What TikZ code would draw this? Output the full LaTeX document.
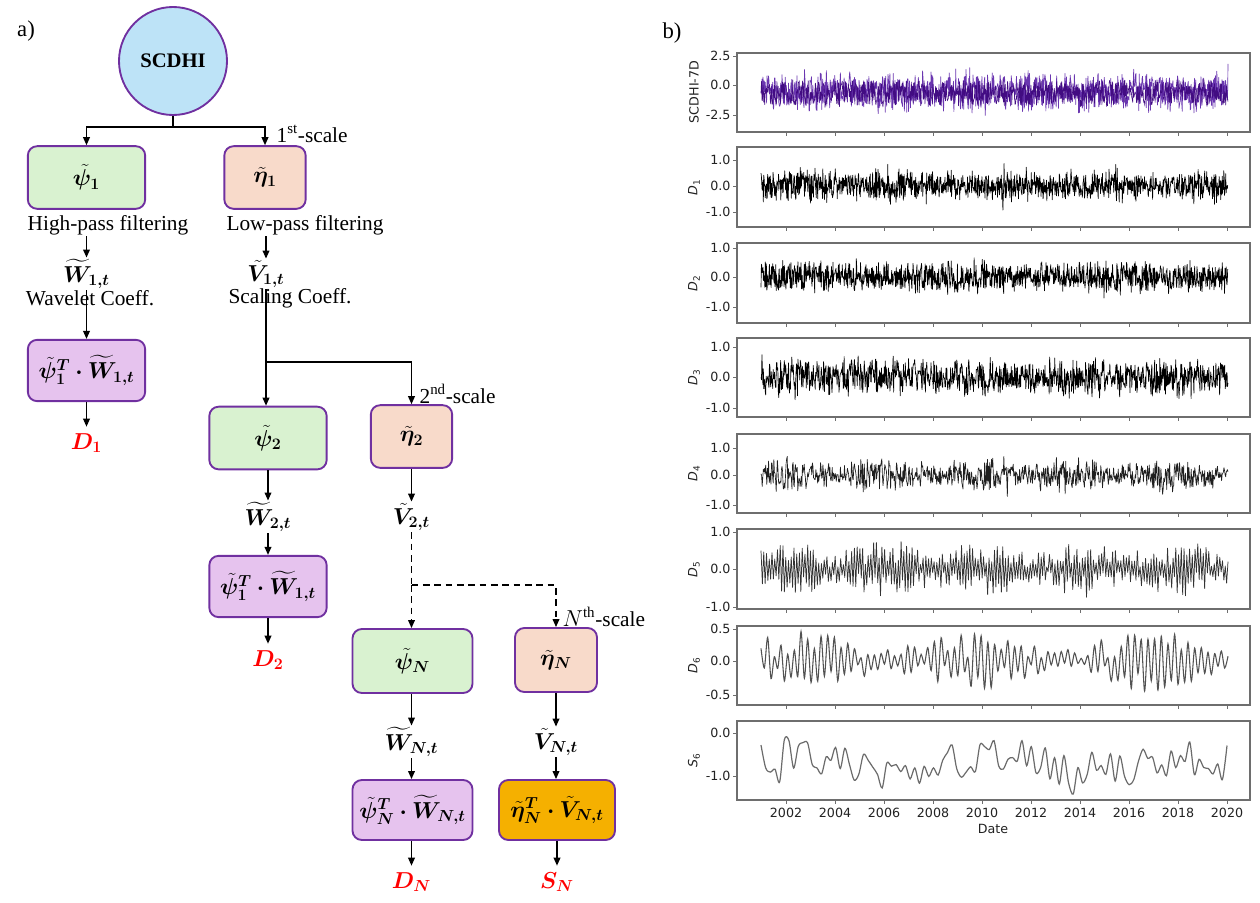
\documentclass[tikz,border=0pt]{standalone}
\usepackage{amsmath}
\usepackage{fontspec}
\setmainfont{Liberation Serif}
\newfontfamily\plotfont{DejaVu Sans}
\usepackage{bm}
\usetikzlibrary{arrows.meta}
\definecolor{pborder}{HTML}{7030A0}
\definecolor{cblue}{HTML}{BDE3F7}
\definecolor{cgreen}{HTML}{D9F2D0}
\definecolor{cpeach}{HTML}{F8DACA}
\definecolor{clav}{HTML}{E6C3EE}
\definecolor{corange}{HTML}{F5B000}
\definecolor{sigpurple}{HTML}{6A36B0}
\definecolor{sigdark}{HTML}{420C82}
\definecolor{axgray}{HTML}{6E6E6E}
\definecolor{ticktxt}{HTML}{222222}
\newcommand{\dlab}[2]{\textit{#1}\textsubscript{#2}}
\newcommand{\axpanel}[2]{%
  \draw[axframe] (737,#1) rectangle (1250,#2);
  \foreach \k in {0,...,9} {\draw[tk] ({786+49*\k},#2) -- ++(0,4);}%
}
\tikzset{
  fbox/.style={draw=pborder, line width=1.4pt, rounded corners=7pt, inner sep=0pt, font=\fontsize{18}{21}\selectfont},
  gbox/.style={fbox, fill=cgreen, minimum width=88pt, minimum height=47pt},
  pbox/.style={fbox, fill=cpeach, minimum width=61pt, minimum height=47pt},
  lbox/.style={fbox, fill=clav, minimum width=88pt, minimum height=46pt},
  obox/.style={fbox, fill=corange, minimum width=87pt, minimum height=45pt},
  coef/.style={inner sep=1pt, font=\fontsize{16.5}{18}\selectfont},
  captxt/.style={inner sep=1pt, font=\fontsize{16}{18}\selectfont},
  outtxt/.style={text=red, inner sep=1pt, outer sep=4pt, font=\fontsize{17}{20}\selectfont},
  conn/.style={line width=1.1pt, -{Triangle[length=6pt,width=5pt]}},
  dconn/.style={conn, dash pattern=on 5pt off 3.5pt},
  dline/.style={line width=1.1pt, dash pattern=on 5pt off 3.5pt},
  pline/.style={line width=1.1pt},
  tk/.style={axgray, line width=0.7pt},
  axframe/.style={axgray, line width=0.9pt},
  ticklab/.style={font=\plotfont\fontsize{9.5}{11}\selectfont, text=ticktxt, inner sep=1.5pt},
  noisy/.style={line width=0.5pt, line join=round},
}
\begin{document}
\begin{tikzpicture}[x=0.75pt, y=-0.75pt]
\useasboundingbox (0,0) rectangle (1260,903);
\fill[white] (0,0) rectangle (1260,903);

% ---------------- part a ----------------
\node[font=\fontsize{17}{19}\selectfont] (la) at (26,31) {a)};
\node[circle, draw=pborder, line width=1.4pt, fill=cblue, minimum size=81pt, inner sep=0pt,
      font=\bfseries\fontsize{15.5}{17}\selectfont] (scdhi) at (173,61) {SCDHI};
\coordinate (j1) at (173,127);
\node[gbox] (psi1) at (86.5,177.5) {$\bm{\tilde{\psi}_1}$};
\node[pbox] (eta1) at (265,177.5) {$\bm{\tilde{\eta}_1}$};
\draw[pline] (scdhi.south) -- (j1);
\draw[conn] (j1) -| (psi1.north);
\draw[conn] (j1) -| (eta1.north);
\node[captxt, anchor=west] (s1) at (275,134) {1\textsuperscript{st}-scale};

\node[captxt] (hp) at (108,225) {High-pass filtering};
\node[captxt] (lp) at (305,225) {Low-pass filtering};
\node[coef] (W1) at (86.5,274) {$\bm{\widetilde{W}_{1,t}}$};
\node[captxt] (wc) at (90,298) {Wavelet Coeff.};
\node[coef] (V1) at (266,274) {$\bm{\tilde{V}_{1,t}}$};
\node[captxt] (sc) at (290,298) {Scaling Coeff.};
\draw[conn] (hp.south -| W1) -- (W1.north);
\draw[conn] (lp.south -| V1) -- (V1.north);

\node[lbox] (box1) at (86.5,370.5) {$\bm{\tilde{\psi}_1^T\cdot\widetilde{W}_{1,t}}$};
\draw[conn] (W1.south) -- (box1.north);
\node[outtxt] (D1) at (86.5,443) {$\bm{D_1}$};
\draw[conn] (box1.south) -- (D1.north);

\coordinate (j2) at (266,362);
\node[gbox] (psi2) at (268,438) {$\bm{\tilde{\psi}_2}$};
\node[pbox] (eta2) at (411.5,436.5) {$\bm{\tilde{\eta}_2}$};
\draw[pline] (V1.south) -- (j2);
\draw[conn] (j2) -- (j2 |- psi2.north);
\draw[conn] (j2) -| (eta2.north);
\node[captxt, anchor=west] (s2) at (418,394) {2\textsuperscript{nd}-scale};

\node[coef] (W2) at (268,517) {$\bm{\widetilde{W}_{2,t}}$};
\node[coef] (V2) at (411.5,517) {$\bm{\tilde{V}_{2,t}}$};
\draw[conn] (psi2.south) -- (W2.north);
\draw[conn] (eta2.south) -- (V2.north);
\node[lbox] (box2) at (268,586.5) {$\bm{\tilde{\psi}_1^T\cdot\widetilde{W}_{1,t}}$};
\draw[conn] (W2.south) -- (box2.north);
\node[outtxt] (D2) at (268,660) {$\bm{D_2}$};
\draw[conn] (box2.south) -- (D2.north);

\coordinate (j3) at (411.5,585);
\node[gbox, minimum width=90pt, minimum height=48pt] (psiN) at (412.5,661) {$\bm{\tilde{\psi}_N}$};
\node[pbox, minimum width=61.5pt, minimum height=48pt] (etaN) at (556,660) {$\bm{\tilde{\eta}_N}$};
\draw[dline] (V2.south) -- (j3);
\draw[dconn] (j3) -- (j3 |- psiN.north);
\draw[dconn] (j3) -| (etaN.north);
\node[captxt, anchor=west] (sN) at (561,617) {$N$\textsuperscript{th}-scale};

\node[coef] (WN) at (411.5,742) {$\bm{\widetilde{W}_{N,t}}$};
\node[coef] (VN) at (556,742) {$\bm{\tilde{V}_{N,t}}$};
\draw[conn] (psiN.south -| WN) -- (WN.north);
\draw[conn] (etaN.south) -- (VN.north);
\node[lbox, minimum width=90pt, minimum height=45pt] (boxN) at (412.5,810) {$\bm{\tilde{\psi}_N^T\cdot\widetilde{W}_{N,t}}$};
\node[obox] (boxS) at (557,810) {$\bm{\tilde{\eta}_N^T\cdot\tilde{V}_{N,t}}$};
\draw[conn] (WN.south) -- (WN.south |- boxN.north);
\draw[conn] (VN.south) -- (VN.south |- boxS.north);
\node[outtxt] (DN) at (411.5,882) {$\bm{D_N}$};
\node[outtxt] (SN) at (557,882) {$\bm{S_N}$};
\draw[conn] (boxN.south -| DN) -- (DN.north);
\draw[conn] (boxS.south) -- (SN.north);

% ---------------- part b ----------------
\node[font=\fontsize{17}{19}\selectfont] (lb) at (672,33) {b)};

\axpanel{53}{132}
\axpanel{147}{227}
\axpanel{243}{323}
\axpanel{338}{417}
\axpanel{434}{513}
\axpanel{529}{609}
\axpanel{626}{705}
\axpanel{721}{800}

\foreach \yy/\lab [count=\i] in {56/2.5,85/0.0,115/-2.5,
   160/1.0,186/0.0,212/-1.0,
   248/1.0,277/0.0,307/-1.0,
   347/1.0,377/0.0,408/-1.0,
   448/1.0,475/0.0,505/-1.0,
   532/1.0,569/0.0,607/-1.0,
   629/0.5,661/0.0,695/-0.5,
   733/0.0,776/-1.0}
  {\draw[tk] (737,\yy) -- (733,\yy) node[ticklab, anchor=east] (yt\i) {\lab};}

\foreach \yr [count=\k from 0] in {2002,2004,...,2020}
  {\node[ticklab] (yr\yr) at ({786+49*\k},813) {\yr};}
\node[ticklab] (date) at (993,829) {Date};

\node[ticklab, rotate=90] (yl0) at (694,92) {SCDHI-7D};
\node[ticklab, rotate=90] (yl1) at (694,187) {\dlab{D}{1}};
\node[ticklab, rotate=90] (yl2) at (694,283) {\dlab{D}{2}};
\node[ticklab, rotate=90] (yl3) at (694,377) {\dlab{D}{3}};
\node[ticklab, rotate=90] (yl4) at (694,473) {\dlab{D}{4}};
\node[ticklab, rotate=90] (yl5) at (694,569) {\dlab{D}{5}};
\node[ticklab, rotate=90] (yl6) at (694,665) {\dlab{D}{6}};
\node[ticklab, rotate=90] (yl7) at (694,760) {\dlab{S}{6}};

% signals
\pgfmathsetseed{11}
\draw[sigpurple, noisy]
  plot[domain=0:1000, samples=1001] ({761+\x*0.467}, {85-11.8*(-0.6+1.4*rand+0.3*(rand+rand+rand)+(rnd>0.9)*0.6*rand)});
\pgfmathsetseed{12}
\draw[sigdark, noisy, line width=0.45pt]
  plot[domain=0:1000, samples=1001] ({761+\x*0.467}, {85-11.8*(-0.7+1.05*rand+0.1*(rand+rand+rand))});
\pgfmathsetseed{21}
\draw[black, noisy]
  plot[domain=0:1200, samples=1201] ({761+\x*0.3889}, {186-26*(0.48*rand*(0.92+0.1*sin(\x*1.3))+0.12*(rand+rand+rand)+(rnd>0.93)*0.38*rand)});
\pgfmathsetseed{31}
\draw[black, noisy]
  plot[domain=0:1200, samples=1201] ({761+\x*0.3889}, {277-29.5*(0.45*rand*(0.92+0.1*sin(\x*0.9))+0.1*(rand+rand+rand)+(rnd>0.93)*0.35*rand)});
\pgfmathsetseed{41}
\draw[black, noisy]
  plot[domain=0:1000, samples=1001] ({761+\x*0.467}, {377-30.5*(0.55*rand*(0.92+0.08*sin(\x*1.7))+0.1*(rand+rand+rand)+(rnd>0.92)*0.25*rand)});
\pgfmathsetseed{51}
\draw[black!88, noisy]
  plot[domain=0:800, samples=801] ({761+\x*0.58375}, {475-28.5*(0.45*rand*(0.85+0.3*sin(\x*2.2))+0.1*(rand+rand+rand)+(rnd>0.92)*0.35*rand)});
\pgfmathsetseed{61}
\draw[black!80, line width=0.55pt, line join=round]
  plot[domain=0:340, samples=341] ({761+\x*1.3735}, {569-37.5*(cos(180*mod(\x,2))*(0.12+0.58*rnd)*(0.85+0.25*sin(\x*5))+0.06*rand)});
\pgfmathsetseed{71}
\draw[black!68, line width=0.8pt]
  plot[smooth, domain=0:140, samples=141] ({761+\x*3.3357}, {661-66*(cos(180*mod(\x,2))*(0.05+0.38*rnd)*(0.8+0.3*sin(\x*7)))});
\pgfmathsetseed{81}
\draw[black!58, line width=0.9pt]
  plot[smooth, domain=0:100, samples=101] ({761+\x*4.66}, {733-43*(-0.68+0.45*rand+0.12*sin(\x*9)-(rnd>0.88)*0.3)});
\end{tikzpicture}
\end{document}
